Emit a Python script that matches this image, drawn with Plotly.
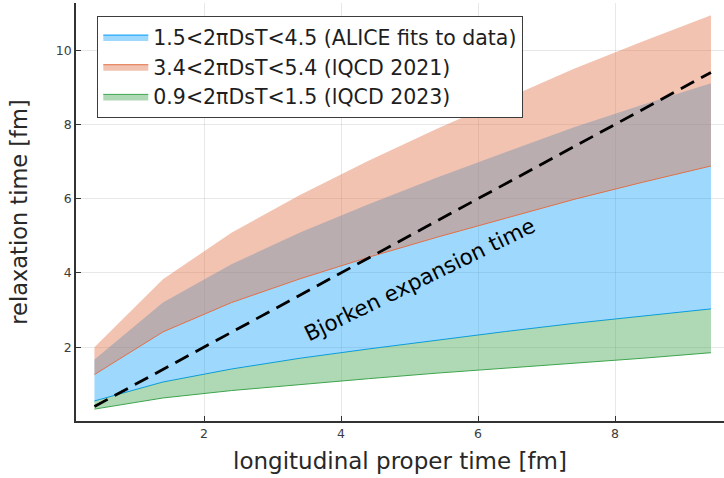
import plotly.graph_objects as go

# proper time grid [fm]
tau = [0.4, 1.4, 2.4, 3.4, 4.4, 5.4, 6.4, 7.4, 8.4, 9.4]

# 1.5 < 2piDsT < 4.5 (ALICE fits to data)
blue_lo = [0.55, 1.06, 1.41, 1.70, 1.95, 2.19, 2.42, 2.64, 2.84, 3.03]
blue_hi = [1.67, 3.20, 4.23, 5.09, 5.85, 6.57, 7.25, 7.92, 8.53, 9.11]
# 3.4 < 2piDsT < 5.4 (lQCD 2021)
orange_lo = [1.26, 2.41, 3.20, 3.84, 4.42, 4.96, 5.47, 5.98, 6.44, 6.88]
orange_hi = [2.00, 3.83, 5.08, 6.10, 7.02, 7.88, 8.69, 9.50, 10.23, 10.94]
# 0.9 < 2piDsT < 1.5 (lQCD 2023)
green_lo = [0.33, 0.63, 0.83, 1.00, 1.15, 1.30, 1.43, 1.57, 1.70, 1.85]
green_hi = blue_lo

# Bjorken expansion time (tau_R = tau)
bj_x = [0.4, 9.4]
bj_y = [0.4, 9.4]

names = ["1.5<2πDsT<4.5 (ALICE fits to data)",
         "3.4<2πDsT<5.4 (lQCD 2021)",
         "0.9<2πDsT<1.5 (lQCD 2023)"]
bands = [(blue_lo, blue_hi, "#009afa", "rgba(0,154,250,0.38)"),
         (orange_lo, orange_hi, "#e26f46", "rgba(226,111,70,0.42)"),
         (green_lo, green_hi, "#3da44d", "rgba(61,164,77,0.42)")]

fig = go.Figure()
for (lo, hi, lc, fc), nm in zip(bands, names):
    fig.add_trace(go.Scatter(x=tau, y=hi, mode="lines", line=dict(width=0, color=lc),
                             showlegend=False, hoverinfo="skip"))
    fig.add_trace(go.Scatter(x=tau, y=lo, mode="lines", fill="tonexty", fillcolor=fc,
                             line=dict(width=1, color=lc), name=nm))

fig.add_trace(go.Scatter(x=bj_x, y=bj_y, mode="lines", showlegend=False,
                         line=dict(color="black", width=2.8, dash="15px,8px")))

fig.add_annotation(x=5.15, y=3.82, xref="x", yref="y", text="Bjorken expansion time",
                   showarrow=False, textangle=-26,
                   font=dict(family="DejaVu Sans", size=21.5, color="black"))

axis_common = dict(showline=True, linecolor="rgb(50,50,50)", linewidth=1.5,
                   ticks="inside", ticklen=5, tickcolor="rgb(50,50,50)",
                   showgrid=True, gridcolor="rgba(0,0,0,0.09)", gridwidth=0.7,
                   zeroline=False, mirror=False,
                   tickfont=dict(family="DejaVu Sans", size=12.5, color="rgb(60,60,60)"))

fig.update_layout(
    width=724, height=478,
    margin=dict(l=76, r=0, t=3, b=57),
    paper_bgcolor="white", plot_bgcolor="white",
    font=dict(family="DejaVu Sans"),
    xaxis=dict(range=[0.131, 9.59], tickvals=[2, 4, 6, 8],
               title=dict(text="longitudinal proper time [fm]",
                          font=dict(family="DejaVu Sans", size=23, color="rgb(40,40,40)"),
                          standoff=13),
               **axis_common),
    yaxis=dict(range=[0.01, 11.27], tickvals=[2, 4, 6, 8, 10],
               title=dict(text="relaxation time [fm]",
                          font=dict(family="DejaVu Sans", size=22.5, color="rgb(40,40,40)"),
                          standoff=22),
               **axis_common),
    legend=dict(x=0.0324, y=0.969, xanchor="left", yanchor="top",
                traceorder="normal",
                bgcolor="white", bordercolor="rgb(60,60,60)", borderwidth=1.3,
                font=dict(family="DejaVu Sans", size=20.5, color="rgb(30,30,30)"),
                itemwidth=45, tracegroupgap=0),
    showlegend=True,
)

fig.write_html("out.html")
